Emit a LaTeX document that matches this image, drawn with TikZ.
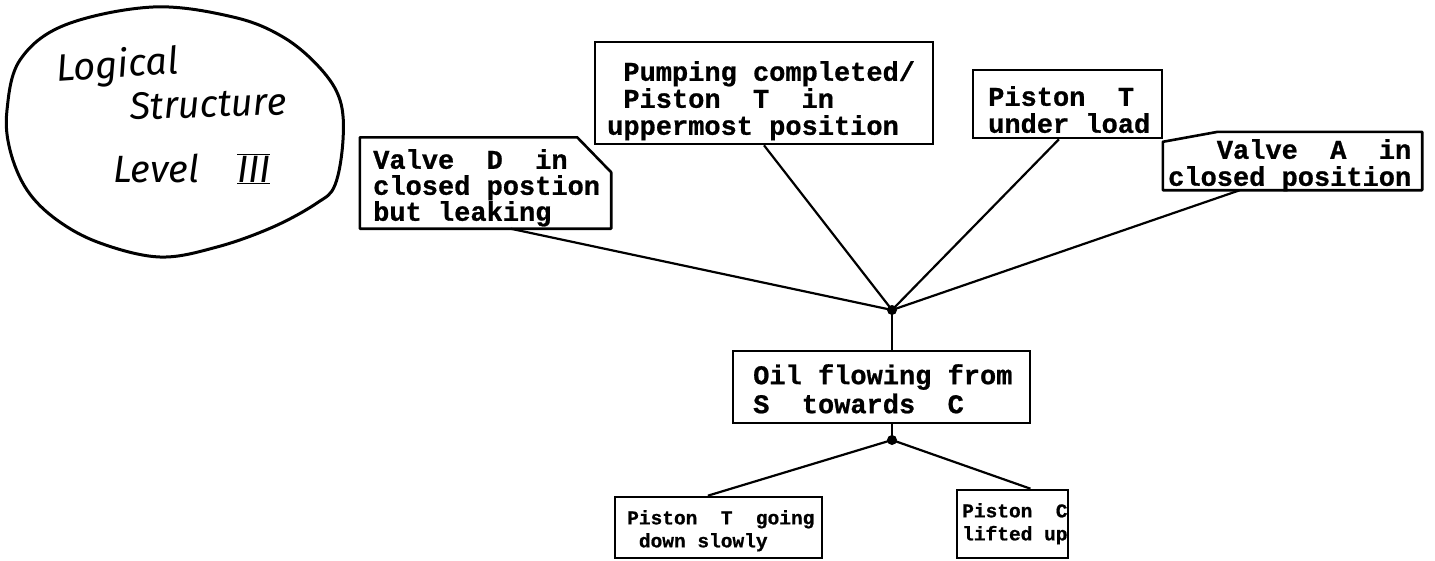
\documentclass[tikz,border=0pt]{standalone}
\usepackage{fontspec}
\newfontfamily\typfont{Liberation Mono Bold}[FakeBold=0.8]
\newfontfamily\hand{Fira Sans}
\usetikzlibrary{calc}
\begin{document}
\begin{tikzpicture}[x=1pt,y=-1pt,
  boxline/.style={draw, line width=2.6pt, inner sep=0pt},
  conn/.style={line width=2.2pt},
  typ/.style={font=\typfont\fontsize{27}{27}\selectfont, align=left, inner sep=0pt, anchor=north west},
  typs/.style={font=\typfont\fontsize{19.5}{23}\selectfont, align=left, inner sep=0pt, anchor=north west},
  hw/.style={font=\hand\itshape\fontsize{38}{38}\selectfont, inner sep=0pt, anchor=base west},
  jdot/.style={circle, fill, inner sep=0pt, minimum size=10pt}]
\useasboundingbox (0,0) rectangle (1435,560);

% title circle
\draw[line width=3pt] plot[smooth cycle, tension=0.6] coordinates {(153,7) (233,17) (283,37) (320,68) (340,100) (343,140) (335,185) (317,203) (273,227) (217,247) (160,257) (100,243) (57,220) (27,190) (10,150) (7,110) (20,60) (65,25)};
\node[hw, rotate=4] (t1) at (57,82) {Logical};
\node[hw, rotate=2] (t2) at (130,120) {Structure};
\node[hw] (t3) at (113,182) {Level};
\node[hw] (t4) at (237,182) {$\overline{\underline{\hbox{\hand\itshape III}}}$};

% boxes
\node[inner sep=0pt, minimum width=251pt, minimum height=91pt] (vdbox) at (485.5,183) {};
\draw[line width=2.6pt, line join=round] (vdbox.north west) -- ($(vdbox.north east)+(-34,0)$) -- ($(vdbox.north east)+(0,35)$) -- (vdbox.south east) -- (vdbox.south west) -- cycle;
\node[boxline, minimum width=338pt, minimum height=102pt] (pcbox) at (764,93) {};
\node[boxline, minimum width=189pt, minimum height=68pt] (plbox) at (1067.5,104) {};
\node[inner sep=0pt, minimum width=259pt, minimum height=58pt] (vabox) at (1292.5,161) {};
\draw[line width=2.6pt, line join=round] ($(vabox.north west)+(0,10)$) -- ($(vabox.north west)+(55,0)$) -- (vabox.north east) -- (vabox.south east) -- (vabox.south west) -- cycle;
\node[boxline, minimum width=297pt, minimum height=72pt] (oilbox) at (881.5,387) {};
\node[boxline, minimum width=207pt, minimum height=61pt] (ptbox) at (718.5,527.5) {};
\node[boxline, minimum width=111pt, minimum height=68pt] (pcubox) at (1012.5,524) {};

% texts
\node[typ, font=\typfont\fontsize{27}{26}\selectfont] (vdt) at (373,149) {Valve~~D~~in\\closed postion\\but leaking};
\node[typ] (pct) at (607,61) {\hphantom{x}Pumping completed/\\\hphantom{x}Piston~~T~~in\\uppermost position};
\node[typ] (plt) at (988,86) {Piston~~T\\under load};
\node[typ] (vat) at (1168,139) {\hphantom{xxx}Valve~~A~~in\\closed position};
\node[typ, font=\typfont\fontsize{27}{29}\selectfont] (oilt) at (753,364) {Oil flowing from\\S~~towards~~C};
\node[typs] (ptt) at (627,510) {Piston~~T~~going\\\hphantom{x}down slowly};
\node[typs] (pcut) at (962,503) {Piston~~C\\lifted up};

% junctions
\node[jdot] (j1) at (892,310) {};
\node[jdot] (j2) at (892,440) {};

% connectors
\draw[conn] ($(vdbox.south west)!0.6!(vdbox.south east)$) -- (j1.center);
\draw[conn] (pcbox.south) -- (j1.center);
\draw[conn] ($(plbox.south west)!0.455!(plbox.south east)$) -- (j1.center);
\draw[conn] ($(vabox.south west)!0.297!(vabox.south east)$) -- (j1.center);
\draw[conn] (j1.center) -- (j1 |- oilbox.north);
\draw[conn] (j1 |- oilbox.south) -- (j2.center);
\draw[conn] (j2.center) -- ($(ptbox.north west)!0.449!(ptbox.north east)$);
\draw[conn] (j2.center) -- ($(pcubox.north west)!0.658!(pcubox.north east)$);
\end{tikzpicture}
\end{document}
